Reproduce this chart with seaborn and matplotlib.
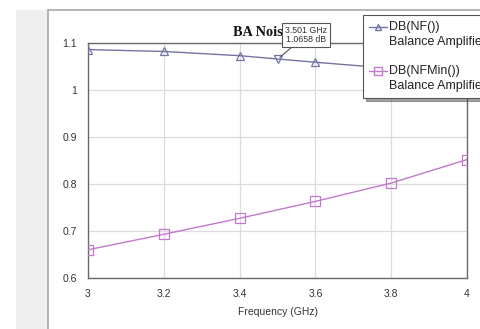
import matplotlib
matplotlib.use("Agg")
import matplotlib.pyplot as plt
import seaborn as sns
import pandas as pd
from matplotlib.patches import Rectangle
from matplotlib.lines import Line2D
from matplotlib.legend_handler import HandlerLine2D

freq = [3.0, 3.2, 3.4, 3.6, 3.8, 4.0]
nf = [1.086, 1.082, 1.073, 1.059, 1.046, 1.031]
nfmin = [0.660, 0.693, 0.727, 0.763, 0.802, 0.852]
marker_freq = 3.501
marker_val = 1.0658
title = "BA Noise"
legend_labels = ["DB(NF())\nBalance Amplifier", "DB(NFMin())\nBalance Amplifier"]
xticks = [3, 3.2, 3.4, 3.6, 3.8, 4]
xticklabels = ["3", "3.2", "3.4", "3.6", "3.8", "4"]
yticks = [0.6, 0.7, 0.8, 0.9, 1.0, 1.1]
yticklabels = ["0.6", "0.7", "0.8", "0.9", "1", "1.1"]

sns.set_theme(style="white")
plt.rcParams['font.family'] = ['Liberation Sans', 'DejaVu Sans']

W, H = 481, 329
fig = plt.figure(figsize=(W / 100, H / 100), dpi=100)
fig.patch.set_facecolor("white")

# left gray strip and panel border
fig.patches.append(Rectangle((16 / W, 0), 32 / W, (H - 10) / H, transform=fig.transFigure,
                             facecolor="#efefef", edgecolor="none", zorder=0))
fig.lines.append(Line2D([48 / W, 48 / W], [0, (H - 10) / H], transform=fig.transFigure,
                        color="#a8a8a8", lw=1.2))
fig.lines.append(Line2D([48 / W, 1], [(H - 10) / H, (H - 10) / H], transform=fig.transFigure,
                        color="#a8a8a8", lw=1.2))

ax = fig.add_axes([88 / W, (H - 278) / H, (467 - 88) / W, (278 - 43) / H])

nf_color = "#7474a4"
nfmin_color = "#c278cc"
df1 = pd.DataFrame({"f": freq, "v": nf})
df2 = pd.DataFrame({"f": freq, "v": nfmin})
sns.lineplot(data=df1, x="f", y="v", ax=ax, color=nf_color, lw=1.0, marker="^",
             markersize=6, markerfacecolor="none", markeredgecolor=nf_color,
             markeredgewidth=0.9, zorder=3)
sns.lineplot(data=df2, x="f", y="v", ax=ax, color=nfmin_color, lw=1.0, marker="s",
             markersize=6.5, markerfacecolor="none", markeredgecolor=nfmin_color,
             markeredgewidth=0.9, zorder=3)

ax.set_xlim(3, 4)
ax.set_ylim(0.6, 1.1)
ax.set_xticks(xticks)
ax.set_xticklabels(xticklabels)
ax.set_yticks(yticks)
ax.set_yticklabels(yticklabels)
ax.tick_params(labelsize=7.5, colors="#333333", length=0, pad=8)
ax.grid(True, color="#dcdcdc", lw=0.9)
for s in ax.spines.values():
    s.set_color("#6a6a6a")
    s.set_linewidth(1.0)
ax.set_xlabel("Frequency (GHz)", fontsize=7.5, color="#333333", labelpad=6)
ax.set_ylabel("")

ax.text((233 - 88) / (467 - 88), 1.0 + 11 / 235, title, transform=ax.transAxes,
        ha="left", va="center", fontsize=10.3, fontweight="bold",
        family="Liberation Serif", color="#111111", zorder=2, clip_on=False)

# marker tooltip
ax.plot([marker_freq], [marker_val], marker="v", markersize=5.5, markerfacecolor="none",
        markeredgecolor=nf_color, markeredgewidth=0.9, zorder=4)
ax.annotate("3.501 GHz\n1.0658 dB", xy=(marker_freq, marker_val),
            xytext=(306, H - 35), textcoords="figure pixels",
            ha="center", va="center", fontsize=6.3, color="#333333",
            linespacing=1.1, zorder=10, annotation_clip=False,
            bbox=dict(boxstyle="square,pad=0.3", facecolor="white", edgecolor="#555555", lw=0.8),
            arrowprops=dict(arrowstyle="-", color="#555555", lw=0.8, shrinkA=0, shrinkB=2))


class TopLineHandler(HandlerLine2D):
    def create_artists(self, legend, orig_handle, xdescent, ydescent, width, height,
                       fontsize, trans):
        arts = super().create_artists(legend, orig_handle, xdescent, ydescent, width,
                                      height, fontsize, trans)
        for a in arts:
            a.set_ydata([y + 5.5 for y in a.get_ydata()])
        return arts


handles = [
    Line2D([], [], color=nf_color, lw=1.0, marker="^", markersize=5, markerfacecolor="none",
           markeredgecolor=nf_color),
    Line2D([], [], color=nfmin_color, lw=1.0, marker="s", markersize=5.5, markerfacecolor="none",
           markeredgecolor=nfmin_color),
]
leg = fig.legend(handles, legend_labels, loc="upper left",
                 bbox_to_anchor=(363 / W, 1 - 15 / H), fontsize=9, frameon=True,
                 fancybox=False, shadow=True, handlelength=1.5, handletextpad=0.15,
                 borderpad=0.45, labelspacing=1.4, borderaxespad=0,
                 handler_map={Line2D: TopLineHandler()})
leg.get_frame().set_edgecolor("#555555")
leg.get_frame().set_linewidth(0.8)
for t in leg.get_texts():
    t.set_color("#222222")
    t.set_linespacing(1.35)

fig.savefig("out.png", dpi=100)
